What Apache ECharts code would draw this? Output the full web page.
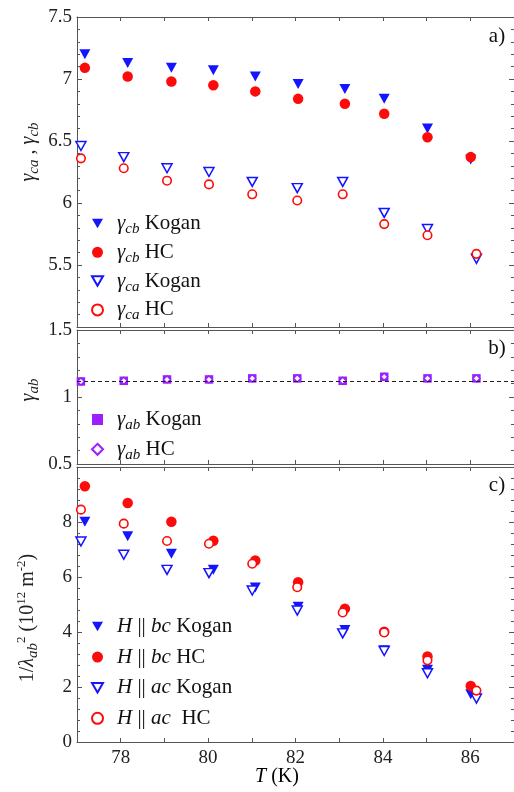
<!DOCTYPE html>
<html><head><meta charset="utf-8">
<script src="https://cdn.jsdelivr.net/npm/echarts@6/dist/echarts.min.js"></script>
<style>html,body{margin:0;padding:0;background:#fff}#c{width:514px;height:792px}</style>
</head><body><div id="c"></div>
<script>
// ---- data ----
const T_filled = [77.18, 78.16, 79.16, 80.12, 81.08, 82.06, 83.13, 84.03, 85.02, 86.01];
const T_open   = [77.09, 78.07, 79.06, 80.02, 81.01, 82.04, 83.08, 84.03, 85.02, 86.14];
const gcbKogan = [7.20, 7.13, 7.09, 7.07, 7.02, 6.96, 6.92, 6.84, 6.60, 6.35];
const gcbHC    = [7.09, 7.02, 6.98, 6.95, 6.90, 6.84, 6.80, 6.72, 6.53, 6.37];
const gcaKogan = [6.46, 6.37, 6.28, 6.25, 6.17, 6.12, 6.17, 5.92, 5.79, 5.55];
const gcaHC    = [6.36, 6.28, 6.18, 6.15, 6.07, 6.02, 6.07, 5.83, 5.74, 5.59];
const gabKogan = [1.116, 1.121, 1.131, 1.131, 1.139, 1.139, 1.121, 1.151, 1.139, 1.139];
const gabHC    = [1.116, 1.121, 1.131, 1.131, 1.139, 1.139, 1.121, 1.151, 1.139, 1.139];
const gabMean  = 1.116;
const bcKogan  = [8.01, 7.48, 6.85, 6.26, 5.62, 4.92, 4.07, 3.34, 2.63, 1.74];
const bcHC     = [9.30, 8.69, 8.01, 7.32, 6.60, 5.81, 4.85, 4.01, 3.11, 2.04];
const acKogan  = [7.29, 6.81, 6.26, 6.14, 5.51, 4.78, 3.95, 3.31, 2.50, 1.58];
const acHC     = [8.45, 7.94, 7.31, 7.21, 6.48, 5.63, 4.71, 3.98, 2.97, 1.87];
const xTicks = [78, 80, 82, 84, 86];

// ---- styling ----
const FONT = '"Liberation Serif", "Times New Roman", serif';
const LC = '#555';
const BLUE = '#1414ff', RED = '#ff0a0a', PURPLE = '#9b1fff';
const TRI_DOWN = 'path://M0,0L12,0L6,10.4Z';
const pair = (xs, ys) => xs.map((x, i) => [x, ys[i]]);

function xAxisCfg(gi, pos, showLabels) {
  return {
    type: 'value', gridIndex: gi, position: pos, min: 77, max: 87, interval: 1,
    axisLine: {show: true, onZero: false, lineStyle: {color: LC, width: 1}},
    axisTick: {show: true, inside: true, length: 4, lineStyle: {color: LC}},
    axisLabel: {show: showLabels, margin: 7, fontFamily: FONT, fontSize: 19, color: '#222',
      formatter: v => (xTicks.indexOf(v) >= 0 ? String(v) : '')},
    splitLine: {show: false}
  };
}
function yAxisCfg(gi, pos, min, max, interval, showLabels, hideMin, hideMax) {
  return {
    type: 'value', gridIndex: gi, position: pos, min: min, max: max, interval: interval,
    axisLine: {show: true, onZero: false, lineStyle: {color: LC, width: 1}},
    axisTick: {show: true, inside: true, length: 5, lineStyle: {color: LC}},
    minorTick: {show: true, splitNumber: 5, length: 3, lineStyle: {color: LC}},
    axisLabel: {show: showLabels, margin: 5, fontFamily: FONT, fontSize: 19, color: '#222',
      showMinLabel: !hideMin, showMaxLabel: !hideMax},
    splitLine: {show: false}, minorSplitLine: {show: false}
  };
}

const richLeg = {
  g: {fontFamily: FONT, fontStyle: 'italic', fontSize: 21, lineHeight: 26, color: '#111', padding: [0, 0, 0, 9]},
  i: {fontFamily: FONT, fontStyle: 'italic', fontSize: 21, lineHeight: 26, color: '#111'},
  s: {fontFamily: FONT, fontStyle: 'italic', fontSize: 15, lineHeight: 15, verticalAlign: 'bottom', color: '#111'},
  t: {fontFamily: FONT, fontSize: 21, lineHeight: 26, color: '#111'}
};
const legendText = {
  'γcb Kogan': '{g|γ}{s|cb}{t| Kogan}',
  'γcb HC': '{g|γ}{s|cb}{t| HC}',
  'γca Kogan': '{g|γ}{s|ca}{t| Kogan}',
  'γca HC': '{g|γ}{s|ca}{t| HC}',
  'γab Kogan': '{g|γ}{s|ab}{t| Kogan}',
  'γab HC': '{g|γ}{s|ab}{t| HC}',
  'H||bc Kogan': '{g|H}{t| || }{i|bc}{t| Kogan}',
  'H||bc HC': '{g|H}{t| || }{i|bc}{t| HC}',
  'H||ac Kogan': '{g|H}{t| || }{i|ac}{t| Kogan}',
  'H||ac HC': '{g|H}{t| || }{i|ac}{t|  HC}'
};
function legendCfg(items, top, gap) {
  return {
    data: items, orient: 'vertical', left: 91, top: top, itemGap: gap,
    itemWidth: 11, itemHeight: 11, padding: 0, selectedMode: false,
    formatter: n => legendText[n], textStyle: {rich: richLeg}
  };
}

const filledTri = (name, xi, yi, xs, ys) => ({
  name, type: 'scatter', xAxisIndex: xi, yAxisIndex: yi, data: pair(xs, ys),
  symbol: 'triangle', symbolRotate: 180, symbolSize: [11, 10],
  itemStyle: {color: BLUE, opacity: 1}
});
const openTri = (name, xi, yi, xs, ys) => ({
  name, type: 'scatter', xAxisIndex: xi, yAxisIndex: yi, data: pair(xs, ys),
  symbol: 'triangle', symbolRotate: 180, symbolSize: [10, 9],
  itemStyle: {color: '#fff', borderColor: BLUE, borderWidth: 1.5, opacity: 1}
});
const filledCirc = (name, xi, yi, xs, ys) => ({
  name, type: 'scatter', xAxisIndex: xi, yAxisIndex: yi, data: pair(xs, ys),
  symbol: 'circle', symbolSize: 10.5,
  itemStyle: {color: RED, opacity: 1}
});
const openCirc = (name, xi, yi, xs, ys) => ({
  name, type: 'scatter', xAxisIndex: xi, yAxisIndex: yi, data: pair(xs, ys),
  symbol: 'circle', symbolSize: 8.5,
  itemStyle: {color: '#fff', borderColor: RED, borderWidth: 1.6, opacity: 1}
});

const richName = {
  g: {fontFamily: FONT, fontStyle: 'italic', fontSize: 20, lineHeight: 26, color: '#222'},
  s: {fontFamily: FONT, fontStyle: 'italic', fontSize: 15, lineHeight: 15, verticalAlign: 'bottom', color: '#222'},
  p: {fontFamily: FONT, fontSize: 13, lineHeight: 13, verticalAlign: 'top', color: '#222'},
  t: {fontFamily: FONT, fontSize: 20, lineHeight: 26, color: '#222'}
};
const nameText = (x, y, text, rot) => ({
  type: 'text', x: x, y: y, rotation: rot,
  style: {text: text, rich: richName, align: 'center', verticalAlign: 'middle', fill: '#222'}
});
const panelLabel = (x, y, text) => ({
  type: 'text', x: x, y: y,
  style: {text: text, font: '21px "Liberation Serif"', fill: '#111', align: 'center', verticalAlign: 'middle'}
});

const chart = echarts.init(document.getElementById('c'), null, {renderer: 'canvas'});
chart.setOption({
  animation: false,
  backgroundColor: '#fff',
  textStyle: {fontFamily: FONT},
  grid: [
    {left: 77, width: 437, top: 17, height: 310, containLabel: false, outerBoundsMode: 'none'},
    {left: 77, width: 437, top: 330, height: 134, containLabel: false, outerBoundsMode: 'none'},
    {left: 77, width: 437, top: 467, height: 275, containLabel: false, outerBoundsMode: 'none'}
  ],
  xAxis: [
    xAxisCfg(0, 'bottom', false), xAxisCfg(0, 'top', false),
    xAxisCfg(1, 'bottom', false), xAxisCfg(1, 'top', false),
    xAxisCfg(2, 'bottom', true),  xAxisCfg(2, 'top', false)
  ],
  yAxis: [
    yAxisCfg(0, 'left', 5, 7.5, 0.5, true, true, false), yAxisCfg(0, 'right', 5, 7.5, 0.5, false),
    yAxisCfg(1, 'left', 0.5, 1.5, 0.5, true, false, false), yAxisCfg(1, 'right', 0.5, 1.5, 0.5, false),
    yAxisCfg(2, 'left', 0, 10, 2, true, false, true), yAxisCfg(2, 'right', 0, 10, 2, false)
  ],
  legend: [
    legendCfg([{name: 'γcb Kogan', icon: TRI_DOWN}, {name: 'γcb HC'},
               {name: 'γca Kogan', icon: TRI_DOWN}, {name: 'γca HC'}], 213, 5.3),
    legendCfg([{name: 'γab Kogan'}, {name: 'γab HC'}], 409, 6.3),
    legendCfg([{name: 'H||bc Kogan', icon: TRI_DOWN}, {name: 'H||bc HC'},
               {name: 'H||ac Kogan', icon: TRI_DOWN}, {name: 'H||ac HC'}], 616, 9.6)
  ],
  series: [
    filledTri('γcb Kogan', 0, 0, T_filled, gcbKogan),
    filledCirc('γcb HC', 0, 0, T_filled, gcbHC),
    openTri('γca Kogan', 0, 0, T_open, gcaKogan),
    openCirc('γca HC', 0, 0, T_open, gcaHC),
    {
      name: 'γab Kogan', type: 'scatter', xAxisIndex: 2, yAxisIndex: 2, data: pair(T_open, gabKogan),
      symbol: 'rect', symbolSize: 8.5, itemStyle: {color: PURPLE, opacity: 1},
      markLine: {silent: true, symbol: 'none', label: {show: false},
        lineStyle: {type: [4, 3], color: '#222', width: 1},
        data: [{yAxis: gabMean}]}
    },
    {
      name: 'γab HC', type: 'scatter', xAxisIndex: 2, yAxisIndex: 2, data: pair(T_open, gabHC),
      symbol: 'diamond', symbolSize: 7, itemStyle: {color: '#fff', borderColor: PURPLE, borderWidth: 1.3, opacity: 1}
    },
    filledTri('H||bc Kogan', 4, 4, T_filled, bcKogan),
    filledCirc('H||bc HC', 4, 4, T_filled, bcHC),
    openTri('H||ac Kogan', 4, 4, T_open, acKogan),
    openCirc('H||ac HC', 4, 4, T_open, acHC)
  ],
  graphic: [
    panelLabel(497, 36, 'a)'),
    panelLabel(497, 348, 'b)'),
    panelLabel(497, 485, 'c)'),
    nameText(29, 152, '{g|γ}{s|ca}{t| , }{g|γ}{s|cb}', Math.PI / 2),
    nameText(29, 390, '{g|γ}{s|ab}', Math.PI / 2),
    nameText(28, 618, '{t|1/}{g|λ}{s|ab}{p|2}{t| (10}{p|12}{t| m}{p|-2}{t|)}', Math.PI / 2),
    {type: 'text', x: 277, y: 777, style: {text: '{g|T}{t| (K)}', rich: richName, align: 'center', verticalAlign: 'middle'}}
  ]
});
</script></body></html>
